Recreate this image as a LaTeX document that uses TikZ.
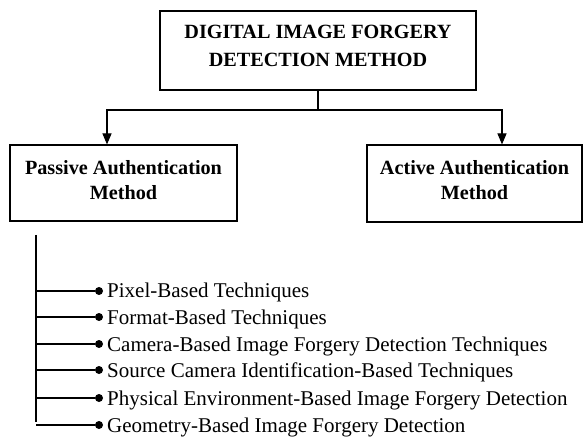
\documentclass[tikz,border=0pt]{standalone}
\usepackage{fontspec}
\setmainfont{Liberation Serif}
\usetikzlibrary{arrows.meta}

\begin{document}
\begin{tikzpicture}[x=1pt,y=-1pt,
	box/.style={draw=black, line width=1.1pt, align=center, inner sep=0pt,
		font=\fontsize{20.2}{25}\selectfont\bfseries},
	link/.style={line width=1.1pt},
	arrowlink/.style={line width=1.1pt, -{Triangle[length=11pt,width=9pt]}},
	dot/.style={circle, fill=black, inner sep=0pt, minimum size=8pt},
	item/.style={anchor=base west, inner sep=0pt, font=\fontsize{21}{24}\selectfont},
	]
	\useasboundingbox (0,0) rectangle (583,443);
	%Nodes
	\node[box, minimum width=316pt, minimum height=79pt,
		font=\fontsize{20.2}{28}\selectfont\bfseries] (root) at (318,50.5)
		{DIGITAL IMAGE FORGERY\\DETECTION METHOD\\[-19pt]\mbox{}};
	\node[box, minimum width=227pt, minimum height=76pt] (passive) at (123.5,183)
		{Passive Authentication\\Method\\[-18pt]\mbox{}};
	\node[box, minimum width=215pt, minimum height=77pt] (active) at (474.5,183.5)
		{Active Authentication\\Method\\[-18pt]\mbox{}};
	\coordinate (split) at (318,110);

	%Connectors
	\draw[link] (root.south) -- (split);
	\draw[arrowlink] (split) -| (passive.north -| 107,0);
	\draw[arrowlink] (split) -| (active.north -| 502,0);

	%Techniques
	\coordinate (spinetop) at (36,235);
	\coordinate (spinebot) at (36,422);
	\draw[link] (spinetop) -- (spinebot);
	\foreach \y/\t [count=\i] in {291/Pixel-Based Techniques,
		317/Format-Based Techniques,
		344/Camera-Based Image Forgery Detection Techniques,
		370/Source Camera Identification-Based Techniques,
		398/Physical Environment-Based Image Forgery Detection,
		425/Geometry-Based Image Forgery Detection}{
		\coordinate (b\i) at (36,\y);
		\node[dot] (d\i) at (99,\y) {};
		\node[item] (t\i) at (107,\y+7) {\t};
		\draw[link] (b\i) -- (d\i);
	}
\end{tikzpicture}
\end{document}
